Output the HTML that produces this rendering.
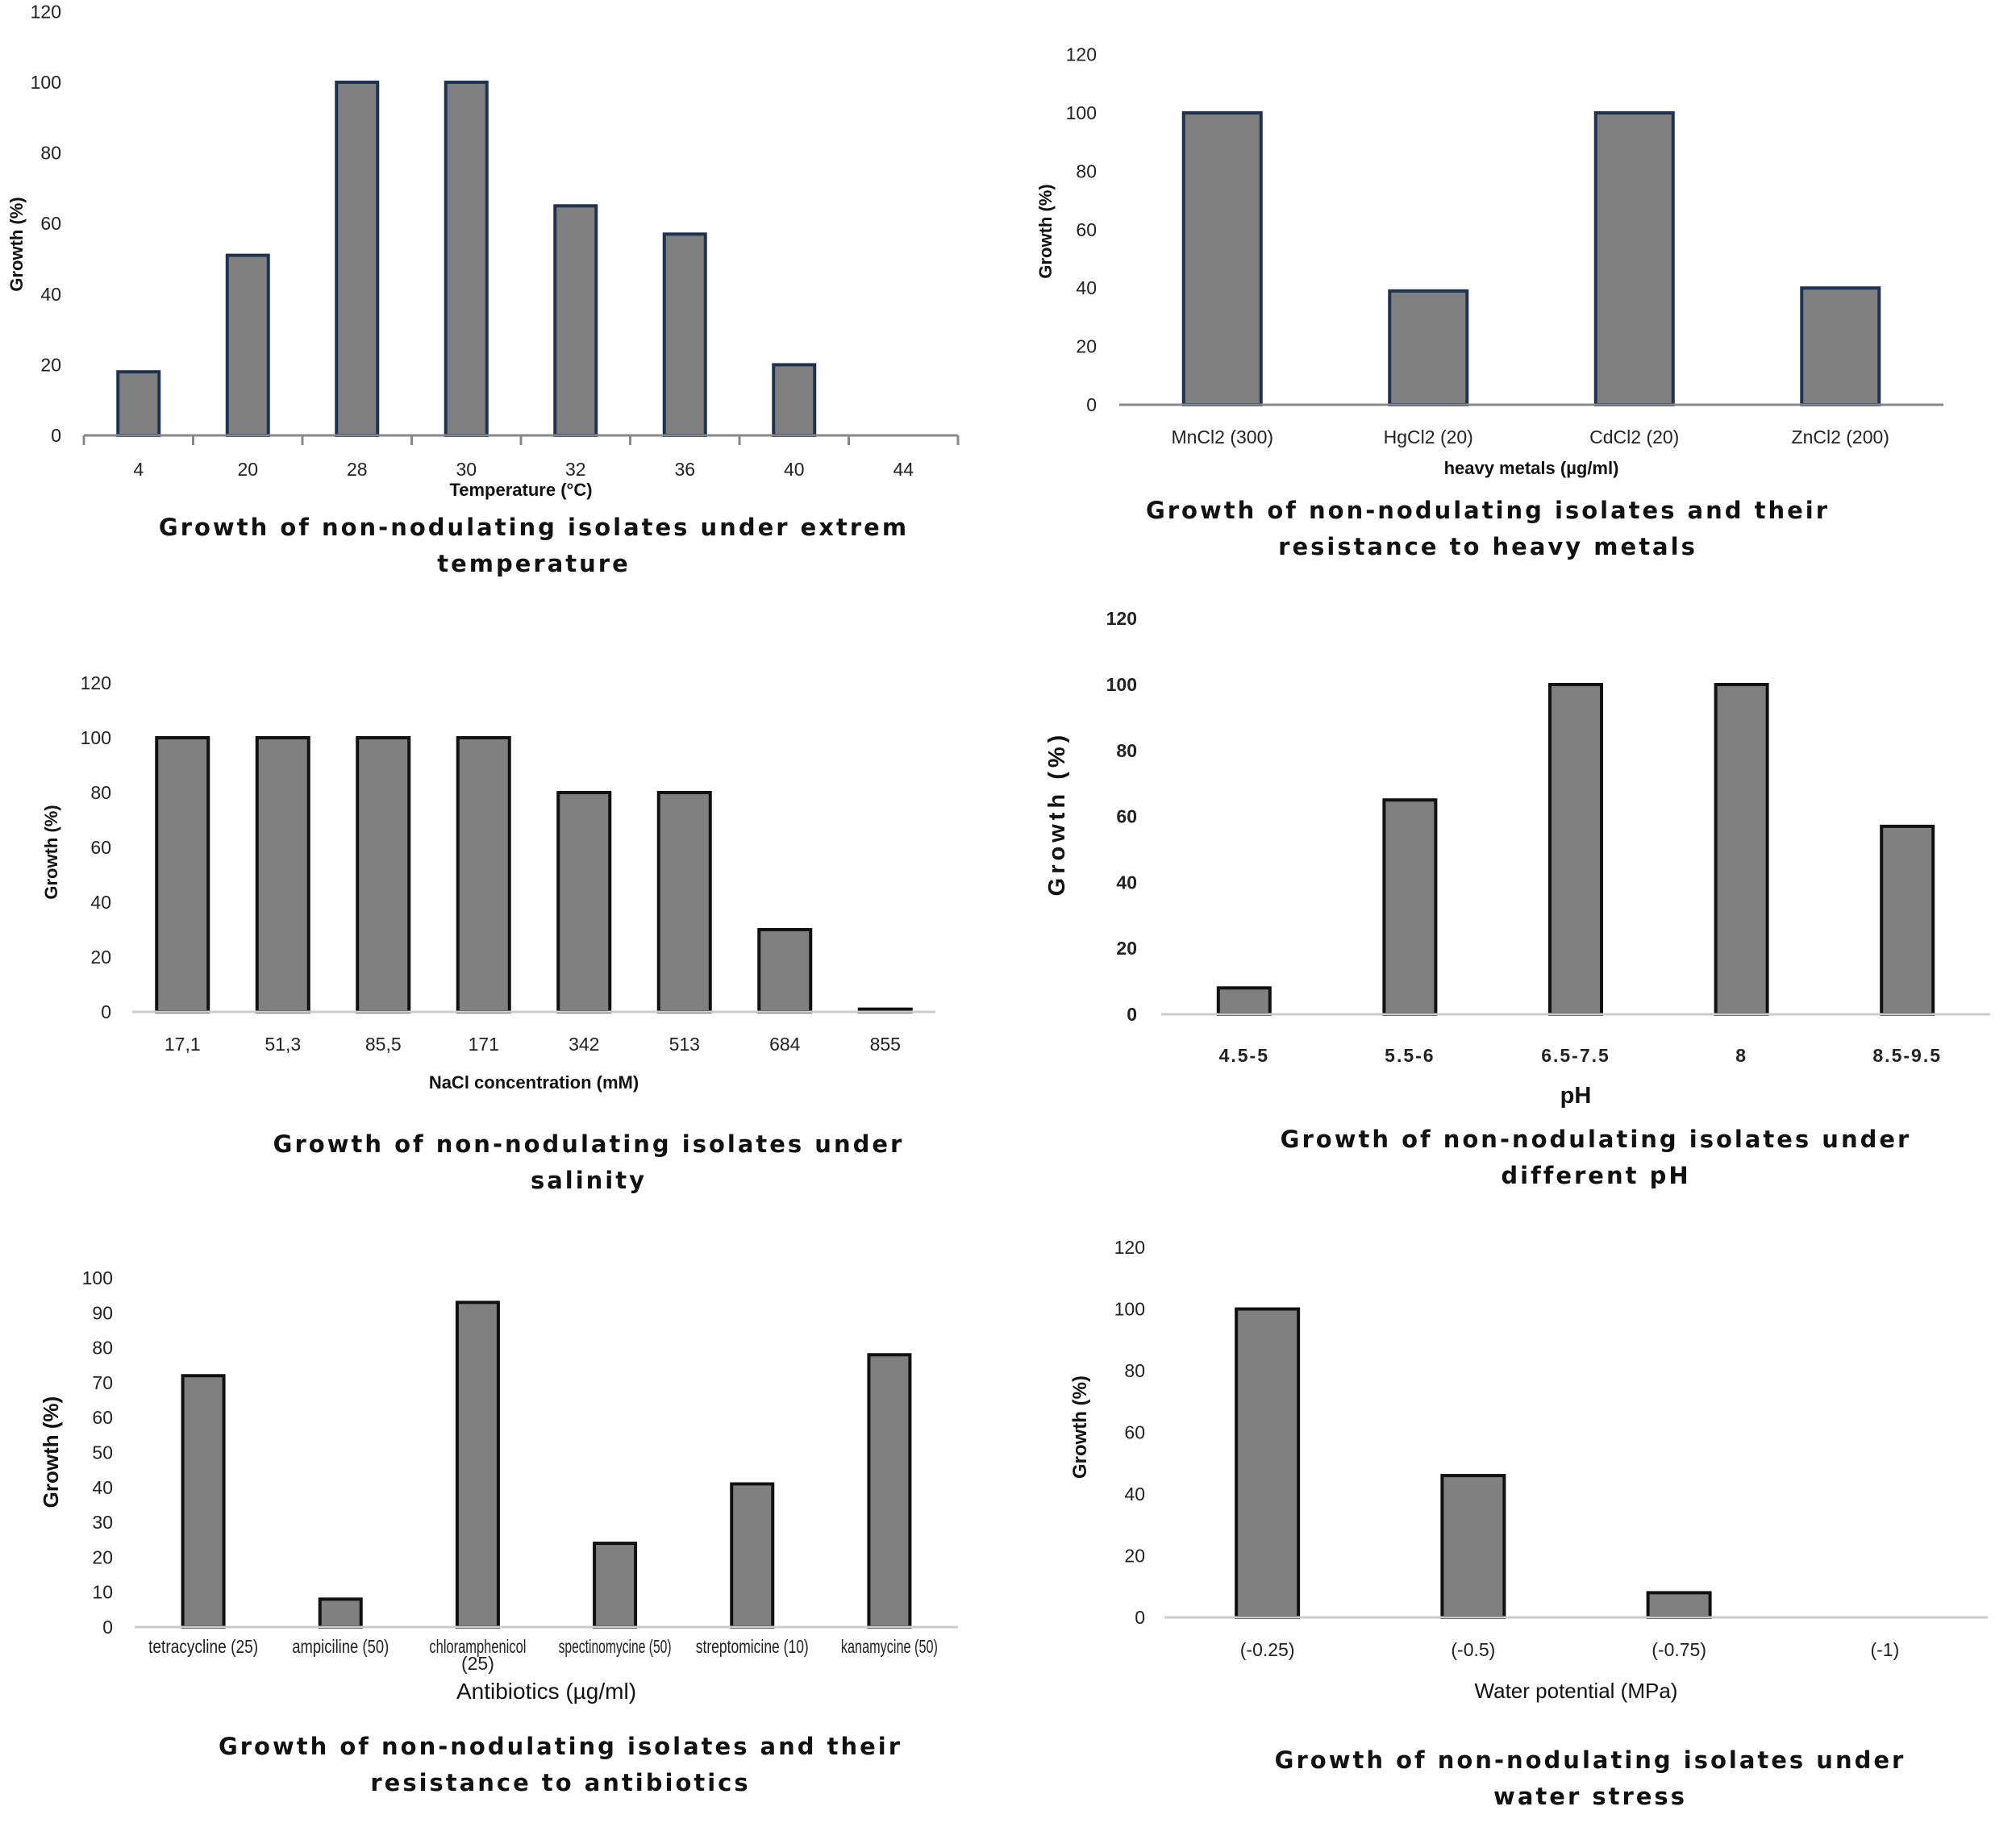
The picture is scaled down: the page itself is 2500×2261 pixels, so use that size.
<!DOCTYPE html>
<html><head><meta charset="utf-8">
<style>
html,body{margin:0;padding:0;background:#fff;}
svg{display:block;font-family:"Liberation Sans",sans-serif;}
.cap{font-family:"DejaVu Sans","Liberation Sans",sans-serif;font-weight:bold;font-size:29px;letter-spacing:3px;fill:#111;}
.tk{font-size:23px;fill:#222;}
</style></head>
<body>
<svg id="fig" width="2500" height="2261" viewBox="0 0 2500 2261"></svg>
<script>
const tempCats=["4","20","28","30","32","36","40","44"];
const tempVals=[18,51,100,100,65,57,20,0];
const metalCats=["MnCl2 (300)","HgCl2 (20)","CdCl2 (20)","ZnCl2 (200)"];
const metalVals=[100,39,100,40];
const saltCats=["17,1","51,3","85,5","171","342","513","684","855"];
const saltVals=[100,100,100,100,80,80,30,1];
const phCats=["4.5-5","5.5-6","6.5-7.5","8","8.5-9.5"];
const phVals=[8,65,100,100,57];
const abCats=["tetracycline (25)","ampiciline (50)","chloramphenicol|(25)","spectinomycine (50)","streptomicine (10)","kanamycine (50)"];
const abVals=[72,8,93,24,41,78];
const waterCats=["(-0.25)","(-0.5)","(-0.75)","(-1)"];
const waterVals=[100,46,8,0];
const yTicks120=[0,20,40,60,80,100,120];
const yTicks100=[0,10,20,30,40,50,60,70,80,90,100];

const NS="http://www.w3.org/2000/svg";
const svg=document.getElementById('fig');
function mk(tag,attrs,parent,text){const e=document.createElementNS(NS,tag);for(const k in attrs)e.setAttribute(k,attrs[k]);if(text!==undefined)e.textContent=text;(parent||svg).appendChild(e);return e;}

function chart(c){
  const g=mk('g',{});
  
  
  const y=v=>c.y0-(v/c.tickStep)*c.perTick;
  const band=(c.x1-c.x0)/c.cats.length;
  const xc=i=>c.x0+band*(i+0.5);
  c.ticks.forEach(t=>{
    const e=mk('text',{x:c.tickX,y:y(t)+8,'text-anchor':'end',class:'tk','font-size':c.tickFs||23,'font-weight':c.bold?'bold':'normal'},g,String(t));
    
    
  });
  c.vals.forEach((v,i)=>{
    const h=y(0)-y(v);
    const r=mk('rect',{x:xc(i)-c.bw/2,y:y(v),width:c.bw,height:Math.max(h,0),fill:'#808080',stroke:c.stroke,'stroke-width':4},g);
    
    
  });
  const ax=mk('line',{x1:c.x0,y1:c.y0,x2:c.x1,y2:c.y0,stroke:c.axisColor,'stroke-width':3},g);
  
  
  if(c.tickMarks){for(let i=0;i<=c.cats.length;i++){const l=mk('line',{x1:c.x0+band*i,y1:c.y0,x2:c.x0+band*i,y2:c.y0+12,stroke:c.axisColor,'stroke-width':3},g);
    
    }}
  c.cats.forEach((s,i)=>{
    const parts=s.split('|');
    parts.forEach((p,j)=>{
      const a={x:xc(i),y:c.labY+j*21,'text-anchor':'middle',class:'tk','font-size':c.labFs||23,'font-weight':c.bold?'bold':'normal','letter-spacing':c.bold?'2':'0'};
      if(c.labMaxW&&p.length>8){a.textLength=Math.min(c.labMaxW,p.length*8);a.lengthAdjust='spacingAndGlyphs';}
      const e=mk('text',a,g,p);
      
      
    });
  });
  const xt=mk('text',{x:(c.x0+c.x1)/2,y:c.xtY,'text-anchor':'middle','font-size':c.xtFs||23,'font-weight':c.xtBold?'bold':'normal',fill:'#111'},g,c.xTitle);
  
  
  const yt=mk('text',{x:0,y:0,'text-anchor':'middle','font-size':c.ytFs||22,'font-weight':'bold',fill:'#111','letter-spacing':c.ytLs||0,transform:`translate(${c.ytX},${c.ytY}) rotate(-90)`},g,c.yTitle);
  
  
  c.caption.forEach((l,j)=>{
    const e=mk('text',{x:c.capX,y:c.capY+j*45,'text-anchor':'middle',class:'cap'},g,l);
    
    
  });
}

chart({name:'temperature-chart',cats:tempCats,vals:tempVals,ticks:yTicks120,tickStep:20,y0:540,perTick:87.6,x0:104,x1:1188,bw:51,stroke:'#1f3350',axisColor:'#888',tickMarks:true,tickX:76,labY:590,xTitle:'Temperature (°C)',xtY:615,xtBold:true,xtFs:22,yTitle:'Growth (%)',ytX:28,ytY:303,caption:['Growth of non-nodulating isolates under extrem','temperature'],capX:662,capY:664});
chart({name:'heavy-metals-chart',cats:metalCats,vals:metalVals,ticks:yTicks120,tickStep:20,y0:502,perTick:72.4,x0:1388,x1:2410,bw:96,stroke:'#1f3350',axisColor:'#888',tickX:1360,labY:550,xTitle:'heavy metals (µg/ml)',xtY:588,xtBold:true,xtFs:22,yTitle:'Growth (%)',ytX:1304,ytY:287,caption:['Growth  of non-nodulating isolates and their','resistance to heavy metals'],capX:1845,capY:643});
chart({name:'salinity-chart',cats:saltCats,vals:saltVals,ticks:yTicks120,tickStep:20,y0:1255,perTick:68,x0:164,x1:1160,bw:64,stroke:'#111',axisColor:'#ccc',tickX:138,labY:1303,xTitle:'NaCl concentration (mM)',xtY:1350,xtBold:true,xtFs:22,yTitle:'Growth (%)',ytX:71,ytY:1057,caption:['Growth  of non-nodulating isolates under','salinity'],capX:730,capY:1429});
chart({name:'ph-chart',cats:phCats,vals:phVals,ticks:yTicks120,tickStep:20,y0:1258,perTick:81.8,x0:1440,x1:2468,bw:64,stroke:'#111',axisColor:'#ccc',tickX:1410,tickFs:30,labFs:31,bold:true,labY:1317,xTitle:'pH',xtY:1368,xtBold:true,xtFs:29,yTitle:'Growth (%)',ytX:1320,ytY:1009,ytFs:29,ytLs:5,caption:['Growth  of non-nodulating isolates under','different pH'],capX:1979,capY:1423});
chart({name:'antibiotics-chart',cats:abCats,vals:abVals,ticks:yTicks100,tickStep:10,y0:2018,perTick:43.3,x0:167,x1:1188,bw:51,stroke:'#111',axisColor:'#ccc',tickX:140,labFs:14,labMaxW:140,labY:2050,xTitle:'Antibiotics (µg/ml)',xtY:2107,xtFs:28,yTitle:'Growth (%)',ytX:72,ytY:1801,ytFs:26,caption:['Growth of non-nodulating isolates and their','resistance to antibiotics'],capX:695,capY:2176});
chart({name:'water-stress-chart',cats:waterCats,vals:waterVals,ticks:yTicks120,tickStep:20,y0:2006,perTick:76.5,x0:1444,x1:2465,bw:77,stroke:'#111',axisColor:'#ccc',tickX:1420,labY:2054,xTitle:'Water potential (MPa)',xtY:2106,xtFs:26,yTitle:'Growth (%)',ytX:1347,ytY:1770,ytFs:24,caption:['Growth of non-nodulating isolates under','water stress'],capX:1972,capY:2193});
</script>
</body></html>
